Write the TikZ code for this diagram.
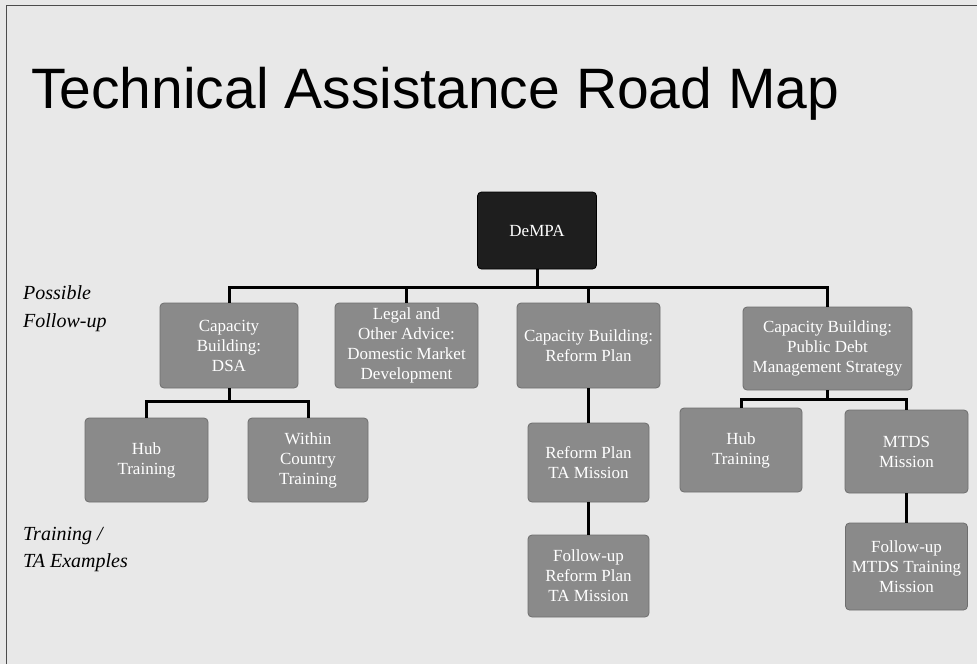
\documentclass[tikz,border=0pt]{standalone}
\usepackage{fontspec}
\setmainfont{Liberation Serif}
\newfontfamily\titlefont{Liberation Sans}
\definecolor{bggray}{HTML}{E8E8E8}
\definecolor{boxgray}{HTML}{8A8A8A}
\definecolor{boxedge}{HTML}{6E6E6E}
\definecolor{darkbox}{HTML}{1E1E1E}
\begin{document}
\begin{tikzpicture}[x=1pt,y=-1pt,
  box/.style={draw=boxedge, line width=0.8pt, fill=boxgray, rounded corners=4pt,
    text=white, align=center, font=\fontsize{17}{20}\selectfont, inner sep=2pt},
  conn/.style={line width=3pt, draw=black},
  sidelab/.style={anchor=base west, inner sep=0pt, font=\itshape\fontsize{20}{27}\selectfont}]
\useasboundingbox (0,0) rectangle (977,664);
\fill[bggray] (0,0) rectangle (977,664);
\draw[gray!60!black, line width=1pt] (6,664) -- (6,5) -- (977,5);

% title
\node[anchor=base west, inner sep=0pt, font=\titlefont\fontsize{57}{62}\selectfont] (title) at (31,108) {Technical Assistance Road Map};

% side labels
\node[sidelab] (lp1) at (23,299) {Possible};
\node[sidelab] (lp2) at (23,327) {Follow-up};
\node[sidelab] (lt1) at (23,540) {Training /};
\node[sidelab] (lt2) at (23,567) {TA Examples};

% boxes
\node[box, fill=darkbox, draw=black, minimum width=119pt, minimum height=77pt] (dempa) at (537,230.5) {DeMPA};

\node[box, minimum width=138pt, minimum height=85pt] (b1) at (229,345.5) {Capacity\\Building:\\DSA};
\node[box, minimum width=143pt, minimum height=85pt] (b2) at (406.5,345.5) {Legal and\\Other Advice:\\Domestic Market\\Development};
\node[box, minimum width=143pt, minimum height=85pt] (b3) at (588.5,345.5) {Capacity Building:\\Reform Plan};
\node[box, minimum width=169pt, minimum height=83pt] (b4) at (827.5,348.5) {Capacity Building:\\Public Debt\\Management Strategy};

\node[box, minimum width=123pt, minimum height=84pt] (c1) at (146.5,460) {Hub\\Training};
\node[box, minimum width=120pt, minimum height=84pt] (c2) at (308,460) {Within\\Country\\Training};
\node[box, minimum width=121pt, minimum height=79pt] (c3) at (588.5,462.5) {Reform Plan\\TA Mission};
\node[box, minimum width=121pt, minimum height=82pt] (c4) at (588.5,576) {Follow-up\\Reform Plan\\TA Mission};
\node[box, minimum width=122pt, minimum height=84pt] (c5) at (741,450) {Hub\\Training};
\node[box, minimum width=123pt, minimum height=83pt] (c6) at (906.5,451.5) {MTDS\\Mission};
\node[box, minimum width=122pt, minimum height=87pt] (c7) at (906.5,566.5) {Follow-up\\MTDS Training\\Mission};

% connectors
\coordinate (busA) at (0,287);
\coordinate (busB) at (0,401);
\coordinate (busC) at (0,399);
\draw[conn] (dempa.south) -- (dempa.south |- busA);
\draw[conn] (b1.north) |- (b4.north |- busA) -- (b4.north);
\draw[conn] (b2.north) -- (b2.north |- busA);
\draw[conn] (b3.north) -- (b3.north |- busA);

\draw[conn] (b1.south) -- (b1.south |- busB);
\draw[conn] (c1.north) |- (c2.north |- busB) -- (c2.north);
\draw[conn] (b3.south) -- (c3.north);
\draw[conn] (c3.south) -- (c4.north);

\draw[conn] (b4.south) -- (b4.south |- busC);
\draw[conn] (c5.north) |- (c6.north |- busC) -- (c6.north);
\draw[conn] (c6.south) -- (c7.north);
\end{tikzpicture}
\end{document}
